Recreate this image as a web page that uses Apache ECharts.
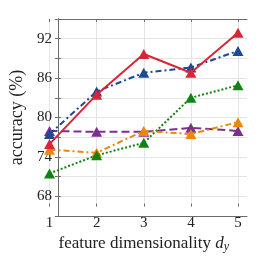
<!DOCTYPE html>
<html><head><meta charset="utf-8">
<script src="https://cdn.jsdelivr.net/npm/echarts@6/dist/echarts.min.js"></script>
<style>html,body{margin:0;padding:0;background:#fff}#c{width:274px;height:258px}</style>
</head><body><div id="c"></div>
<script>
const dims = [1, 2, 3, 4, 5];
const yTicks = [68, 74, 80, 86, 92];
const redSolid = [75.0, 82.9, 89.4, 86.4, 92.8];
const blueDashDot = [76.6, 83.4, 86.4, 87.25, 89.9];
const purpleDashed = [77.1, 76.95, 76.95, 77.6, 77.1];
const orangeDashDot = [74.1, 73.6, 77.1, 76.6, 78.5];
const greenDotted = [70.3, 73.2, 75.2, 82.4, 84.4];

const FONT = 'Liberation Serif';
const axisColor = '#6b6b6b';
const gridColor = '#e4e4e4';
const box = {left: 40, right: 27, top: 19, bottom: 42};
const data = {left: 49.5, right: 36, top: 19, bottom: 42};

function mk(vals) { return dims.map((d, i) => [d, vals[i]]); }
function ser(name, vals, color, type, z) {
  return {
    name, type: 'line', xAxisIndex: 2, yAxisIndex: 2, data: mk(vals),
    symbol: 'triangle', symbolSize: [11, 10], z,
    lineStyle: {color, width: 2, type},
    itemStyle: {color}
  };
}

const chart = echarts.init(document.getElementById('c'), null, {renderer: 'canvas'});
chart.setOption({
  animation: false,
  grid: [
    Object.assign({containLabel: false}, box),
    Object.assign({containLabel: false}, data)
  ],
  xAxis: [
    {gridIndex: 0, type: 'value', min: 0, max: 1, position: 'bottom',
     axisLine: {show: true, lineStyle: {color: axisColor, width: 1}},
     axisTick: {show: false}, axisLabel: {show: false}, splitLine: {show: false}},
    {gridIndex: 0, type: 'value', min: 0, max: 1, position: 'top',
     axisLine: {show: true, lineStyle: {color: axisColor, width: 1}},
     axisTick: {show: false}, axisLabel: {show: false}, splitLine: {show: false}},
    {gridIndex: 1, type: 'value', min: 1, max: 5, interval: 1, position: 'bottom',
     axisLine: {show: false},
     axisTick: {show: true, inside: true, length: 3, lineStyle: {color: axisColor}},
     axisLabel: {show: true, margin: 9, fontFamily: FONT, fontSize: 15, color: '#222'},
     splitLine: {show: true, lineStyle: {color: gridColor, width: 1}},
     name: '{a|feature dimensionality }{i|d}{s|y}',
     nameLocation: 'middle', nameGap: 27,
     nameTextStyle: {
       fontFamily: FONT, fontSize: 17, color: '#222',
       rich: {
         a: {fontFamily: FONT, fontSize: 17, color: '#222'},
         i: {fontFamily: FONT, fontSize: 17, fontStyle: 'italic', color: '#222'},
         s: {fontFamily: FONT, fontSize: 12, fontStyle: 'italic', color: '#222', verticalAlign: 'bottom', padding: [6, 0, 0, 0]}
       }
     }},
    {gridIndex: 1, type: 'value', min: 1, max: 5, interval: 1, position: 'top',
     axisLine: {show: false},
     axisTick: {show: true, inside: true, length: 3, lineStyle: {color: axisColor}},
     axisLabel: {show: false}, splitLine: {show: false}}
  ],
  yAxis: [
    {gridIndex: 0, type: 'value', min: 65, max: 95, interval: 3, position: 'left',
     axisLine: {show: true, lineStyle: {color: axisColor, width: 1}},
     axisTick: {show: true, inside: true, length: 3, lineStyle: {color: axisColor}},
     axisLabel: {show: true, margin: 6, fontFamily: FONT, fontSize: 15, color: '#222',
       formatter: v => yTicks.indexOf(Math.round(v)) >= 0 ? String(Math.round(v)) : ''},
     splitLine: {show: true, lineStyle: {color: gridColor, width: 1}},
     name: 'accuracy (%)', nameLocation: 'middle', nameGap: 23,
     nameTextStyle: {fontFamily: FONT, fontSize: 18, color: '#222'}},
    {gridIndex: 0, type: 'value', min: 65, max: 95, interval: 3, position: 'right',
     axisLine: {show: true, lineStyle: {color: axisColor, width: 1}},
     axisTick: {show: true, inside: true, length: 3, lineStyle: {color: axisColor}},
     axisLabel: {show: false}, splitLine: {show: false}},
    {gridIndex: 1, type: 'value', min: 65, max: 95, show: false}
  ],
  series: [
    ser('purple', purpleDashed, '#7d2f90', [8, 4], 2),
    ser('orange', orangeDashDot, '#ea870c', [6, 3, 2, 3], 3),
    ser('green', greenDotted, '#128312', [2, 2], 4),
    ser('blue', blueDashDot, '#1b4b94', [6, 3, 2, 3], 5),
    ser('red', redSolid, '#d92535', 'solid', 6)
  ]
});
</script></body></html>
